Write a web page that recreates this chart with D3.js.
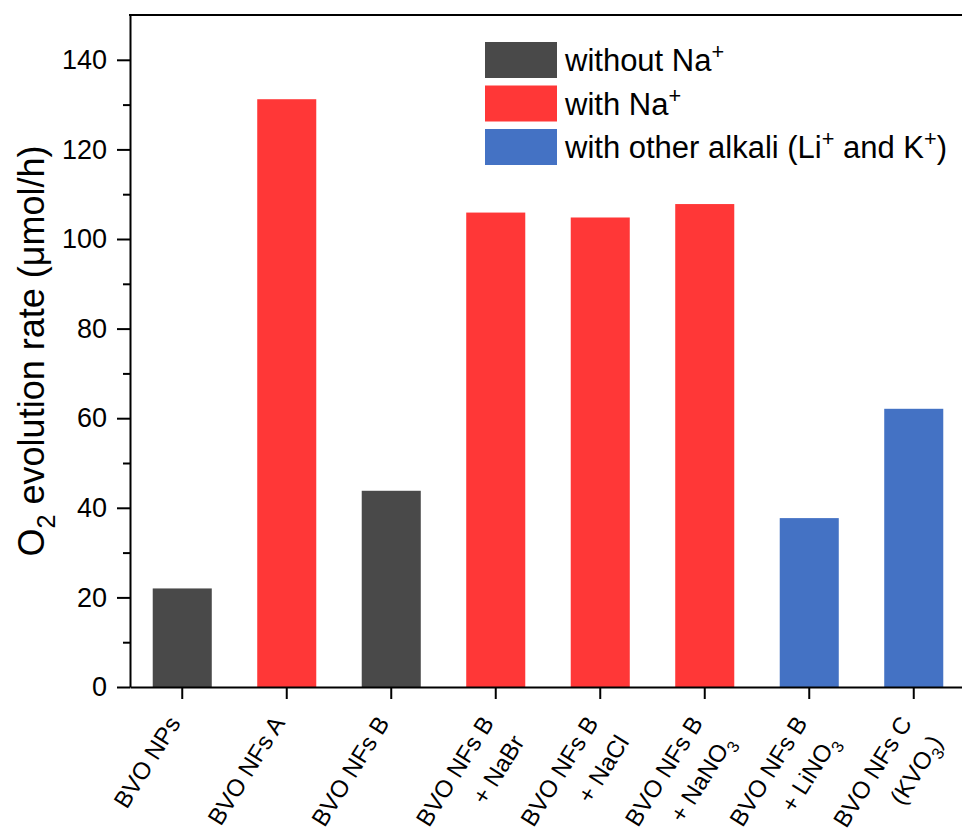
<!DOCTYPE html>
<html>
<head>
<meta charset="utf-8">
<script src="https://cdn.jsdelivr.net/npm/d3@7"></script>
<style>
    body { margin: 0; background: #fff; }
    svg { display: block; }
    text { font-family: "Liberation Sans", Arial, sans-serif; fill: #000; }
</style>
</head>
<body>
<div id="chart"></div>
<script>
// bar data
const categories = ["NPs", "NFsA", "NFsB", "NaBr", "NaCl", "NaNO3", "LiNO3", "KVO3"];
const labelLines = [
    ["BVO NPs"],
    ["BVO NFs A"],
    ["BVO NFs B"],
    ["BVO NFs B", "+ NaBr"],
    ["BVO NFs B", "+ NaCl"],
    ["BVO NFs B", "+ NaNO_3"],
    ["BVO NFs B", "+ LiNO_3"],
    ["BVO NFs C", "(KVO_3)"]
];
const rates = [22.0, 131.2, 43.8, 105.9, 104.8, 107.8, 37.7, 62.1];
const groupOf = ["without", "with", "without", "with", "with", "with", "other", "other"];

const groups = ["without", "with", "other"];
const groupLabels = ["without Na^+", "with Na^+", "with other alkali (Li^+ and K^+)"];
const groupColors = ["#494949", "#ff3737", "#4472c4"];

const yTicks = [0, 20, 40, 60, 80, 100, 120, 140];
const yMinor = [10, 30, 50, 70, 90, 110, 130];

let width = 962;
let height = 836;
let margins = { top: 15, right: -4, bot: 149, left: 130 };

let svg = d3.select("#chart").append("svg")
    .attr("width", width)
    .attr("height", height);

let x = d3.scaleBand()
    .domain(categories)
    .range([margins.left, width - margins.right])
    .paddingInner(0.435)
    .paddingOuter(0.2175);

let y = d3.scaleLinear()
    .domain([0, 150])
    .range([height - margins.bot, margins.top]);

let color = d3.scaleOrdinal().domain(groups).range(groupColors);

// write text with _x subscripts and ^x superscripts
function richText(sel, str, size) {
    let parts = str.split(/(_\w|\^\+)/).filter(s => s.length);
    let back = 0;
    parts.forEach(function (p) {
        let t = sel.append("tspan");
        if (p[0] == "_" || p[0] == "^") {
            let shift = p[0] == "_" ? size * 0.3 : -size * 0.38;
            t.attr("dy", back + shift).attr("font-size", size * 0.7).text(p.slice(1));
            back = -shift;
        } else {
            if (back) t.attr("dy", back);
            back = 0;
            t.text(p);
        }
    });
}

// bars
svg.append("g")
    .selectAll("rect")
    .data(categories)
    .join("rect")
    .attr("x", d => x(d))
    .attr("width", x.bandwidth())
    .attr("y", (d, i) => y(rates[i]))
    .attr("height", (d, i) => y(0) - y(rates[i]))
    .attr("fill", (d, i) => color(groupOf[i]));

// frame top line
svg.append("line")
    .attr("x1", margins.left - 1).attr("x2", width)
    .attr("y1", y(150)).attr("y2", y(150))
    .attr("stroke", "#000").attr("stroke-width", 2);

// y axis
let yAxis = svg.append("g")
    .attr("transform", "translate(" + margins.left + ",0)")
    .call(d3.axisLeft(y).tickValues(yTicks).tickSize(13).tickPadding(10).tickSizeOuter(0));
yAxis.select(".domain").attr("stroke-width", 2);
yAxis.selectAll(".tick line").attr("stroke-width", 2);
yAxis.selectAll(".tick text")
    .attr("font-size", 27)
    .attr("font-family", "Liberation Sans, Arial, sans-serif");

svg.append("g")
    .attr("transform", "translate(" + margins.left + ",0)")
    .call(d3.axisLeft(y).tickValues(yMinor).tickSize(7).tickFormat(""))
    .call(g => g.select(".domain").remove())
    .selectAll(".tick line").attr("stroke-width", 2);

// x axis
let xAxis = svg.append("g")
    .attr("transform", "translate(0," + y(0) + ")")
    .call(d3.axisBottom(x).tickSize(12).tickSizeOuter(0).tickFormat(""));
xAxis.select(".domain").attr("stroke-width", 2);
xAxis.selectAll(".tick line").attr("stroke-width", 2);

let labelSize = 24;
let angle = -58;
categories.forEach(function (c, i) {
    let cx = x(c) + x.bandwidth() / 2;
    let g = svg.append("g")
        .attr("transform", "translate(" + (cx - 1) + "," + (y(0) + 36) + ") rotate(" + angle + ")");
    labelLines[i].forEach(function (line, j) {
        let t = g.append("text")
            .attr("y", j * labelSize * 1.5)
            .attr("text-anchor", "end")
            .attr("font-size", labelSize);
        richText(t, line, labelSize);
    });
});

// y label
let yLabel = svg.append("text")
    .attr("transform", "translate(" + 44 + "," + ((margins.top + y(0)) / 2) + ") rotate(-90)")
    .attr("text-anchor", "middle")
    .attr("font-size", 36);
richText(yLabel, "O_2 evolution rate (\u03bcmol/h)", 36);

// legend
let legend = svg.append("g").attr("transform", "translate(485,42)");
groups.forEach(function (gname, i) {
    legend.append("rect")
        .attr("x", 0)
        .attr("y", i * 43.5)
        .attr("width", 72)
        .attr("height", 36)
        .attr("fill", color(gname));
    let t = legend.append("text")
        .attr("x", 80)
        .attr("y", i * 43.5 + 29)
        .attr("font-size", 31);
    richText(t, groupLabels[i], 31);
});
</script>
</body>
</html>
